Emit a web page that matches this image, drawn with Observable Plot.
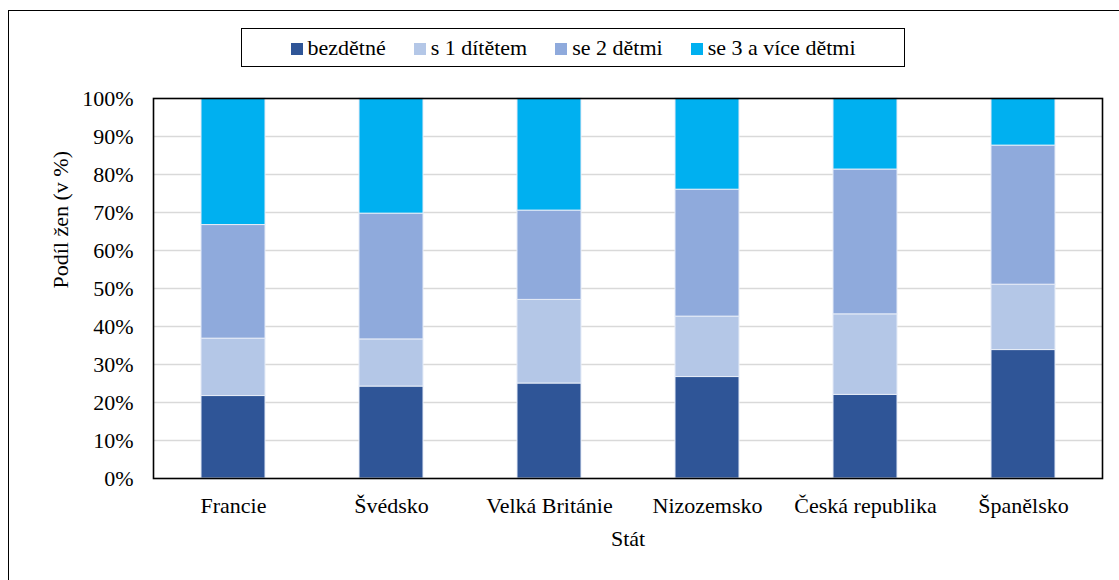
<!DOCTYPE html>
<html>
<head>
<meta charset="utf-8">
<script src="https://cdn.jsdelivr.net/npm/d3@7"></script>
<script src="https://cdn.jsdelivr.net/npm/@observablehq/plot@0.6"></script>
<style>
  .lib { font-family: "Liberation Serif", serif; }
</style>
</head>
<body class="lib" style="margin:0;padding:0;background:#fff;width:1119px;height:580px;position:relative;overflow:hidden;font-family:'Liberation Serif'">
<div style="position:absolute;left:8px;top:10px;width:1300px;height:800px;border:1px solid #000;box-sizing:border-box"></div>
<div style="position:relative;height:70px">
  <div id="legend" class="lib" style="position:absolute;left:241px;top:28px;width:664px;height:39px;border:1.3px solid #000;box-sizing:border-box;display:flex;align-items:center;justify-content:center;gap:28px;font-size:22px;color:#000;font-family:'Liberation Serif'"></div>
</div>
<div id="chart" style="position:relative"></div>
<script>
const countries = ["Francie", "Švédsko", "Velká Británie", "Nizozemsko", "Česká republika", "Španělsko"];
const seriesNames = ["bezdětné", "s 1 dítětem", "se 2 dětmi", "se 3 a více dětmi"];
const seriesColors = ["#2F5597", "#B4C7E7", "#8FAADC", "#00B0F0"];
const bezdetne = [21.7, 24.2, 25.0, 26.7, 22.0, 33.8];
const s1ditetem = [15.1, 12.4, 22.0, 15.9, 21.2, 17.2];
const se2detmi = [29.9, 33.1, 23.5, 33.4, 38.1, 36.6];
const se3detmi = [33.3, 30.3, 29.5, 24.0, 18.7, 12.4];
const yTicks = [0, 10, 20, 30, 40, 50, 60, 70, 80, 90, 100];
const yLabel = "Podíl žen (v %)";
const xLabel = "Stát";

const FONT = "'Liberation Serif'";
const seriesValues = [bezdetne, s1ditetem, se2detmi, se3detmi];
const data = [];
seriesNames.forEach((s, si) => {
  countries.forEach((c, ci) => data.push({country: c, series: s, value: seriesValues[si][ci]}));
});

const legend = document.getElementById("legend");
seriesNames.forEach((s, i) => {
  const it = document.createElement("div");
  it.style.cssText = "display:flex;align-items:center;white-space:nowrap";
  it.style.fontFamily = FONT;
  const sw = document.createElement("span");
  sw.style.cssText = "display:inline-block;width:12px;height:12px;margin-right:5px;margin-top:3px";
  sw.style.background = seriesColors[i];
  it.appendChild(sw);
  it.appendChild(document.createTextNode(s));
  legend.appendChild(it);
});

const plot = Plot.plot({
  width: 1119,
  height: 510,
  marginLeft: 153,
  marginRight: 17,
  marginTop: 28,
  marginBottom: 102,
  style: {fontFamily: FONT, fontSize: "22px", color: "#000", background: "transparent"},
  x: {domain: countries, paddingInner: 0.595, paddingOuter: 0.2975, label: null},
  y: {domain: [0, 100], label: null},
  color: {domain: seriesNames, range: seriesColors},
  marks: [
    Plot.ruleY(yTicks.filter(d => d > 0 && d < 100), {stroke: "#D9D9D9", strokeWidth: 1.5}),
    Plot.barY(data, {x: "country", y: "value", fill: "series", stroke: "#E6ECF7", strokeWidth: 1, order: seriesNames}),
    Plot.frame({stroke: "#000", strokeWidth: 1.6}),
    Plot.axisY({ticks: yTicks, tickSize: 0, tickPadding: 20, tickFormat: d => d + "%", label: null, fill: "#000", fontFamily: FONT}),
    Plot.axisX({tickSize: 0, tickPadding: 19, label: null, fill: "#000", fontFamily: FONT}),
    Plot.text([yLabel], {frameAnchor: "left", dx: -93, rotate: -90, text: d => d, fill: "#000", fontFamily: FONT}),
    Plot.text([xLabel], {frameAnchor: "bottom", dy: 67, text: d => d, fill: "#000", fontFamily: FONT})
  ]
});
document.getElementById("chart").appendChild(plot);
</script>
</body>
</html>
